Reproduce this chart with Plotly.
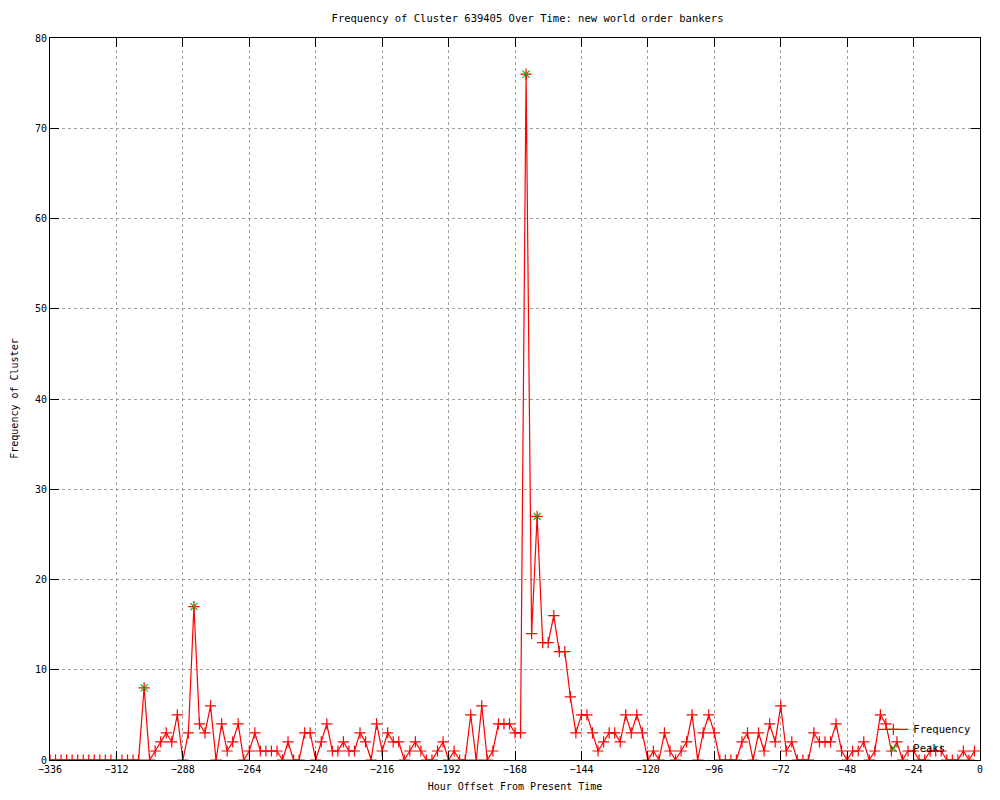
import plotly.graph_objects as go

# hour offsets, one reading every 2 hours
hours = list(range(-336, 0, 2))

frequency = [
    0, 0, 0, 0, 0, 0, 0, 0, 0, 0, 0, 0, 0, 0, 0, 0, 0,
    8, 0, 1, 2, 3, 2, 5, 0, 3, 17, 4, 3, 6, 0, 4, 1, 2, 4, 0,
    1, 3, 1, 1, 1, 1, 0, 2, 0, 0, 3, 3, 0, 2, 4, 1, 1, 2, 1, 1,
    3, 2, 0, 4, 1, 3, 2, 2, 0, 1, 2, 1, 0, 0, 1, 2, 0, 1, 0, 0,
    5, 0, 6, 0, 1, 4, 4, 4, 3, 3, 76, 14, 27, 13, 13, 16, 12, 12,
    7, 3, 5, 5, 3, 1, 2, 3, 3, 2, 5, 3, 5, 3, 0, 1, 0, 3, 1, 0,
    1, 2, 5, 0, 3, 5, 3, 0, 0, 0, 0, 2, 3, 0, 3, 1, 4, 2, 6, 1,
    2, 0, 0, 0, 3, 2, 2, 2, 4, 1, 0, 1, 1, 2, 0, 1, 5, 4, 1, 2,
    0, 1, 1, 0, 0, 1, 1, 1, 0, 0, 0, 1, 0, 1,
]

peak_hours = [-302, -284, -164, -160]
peak_values = [8, 17, 76, 27]

x_ticks = list(range(-336, 1, 24))
y_ticks = list(range(0, 81, 10))

font_mono = "DejaVu Sans Mono"

fig = go.Figure()

fig.add_trace(go.Scatter(
    x=hours,
    y=frequency,
    mode='lines+markers',
    name='Frequency',
    line=dict(color='red', width=1.2),
    marker=dict(symbol='cross-thin', size=8, color='red',
                line=dict(color='red', width=1.2))
))

fig.add_trace(go.Scatter(
    x=peak_hours,
    y=peak_values,
    mode='markers',
    name='Peaks',
    marker=dict(symbol='x-thin', size=7, color='#00b000',
                line=dict(color='#00b000', width=1.2))
))

axis_common = dict(
    showline=True,
    linecolor='black',
    linewidth=1,
    mirror='ticks',
    ticks='inside',
    ticklen=9,
    tickcolor='black',
    showgrid=True,
    gridcolor='#a0a0a0',
    griddash='dot',
    gridwidth=1,
    zeroline=False,
    automargin=False,
    tickfont=dict(family=font_mono, size=10, color='black'),
)

fig.update_xaxes(
    range=[-336, 0],
    tickvals=x_ticks,
    title=dict(text='Hour Offset From Present Time', standoff=8,
               font=dict(family=font_mono, size=10, color='black')),
    **axis_common
)
fig.update_yaxes(
    range=[0, 80],
    tickvals=y_ticks,
    **axis_common
)

# y title sits further left than plotly's standoff allows
fig.add_annotation(
    text='Frequency of Cluster',
    xref='paper', yref='paper',
    x=-0.039, y=0.5,
    xanchor='center', yanchor='middle',
    textangle=-90,
    showarrow=False,
    font=dict(family=font_mono, size=10, color='black')
)

# page body adds ~8px margin, so the figure is a bit smaller than the window
fig.update_layout(
    width=984,
    height=784,
    plot_bgcolor='white',
    paper_bgcolor='white',
    title=dict(text='Frequency of Cluster 639405 Over Time: new world order bankers',
               x=0.528, xanchor='center', y=0.987, yanchor='middle',
               font=dict(family=font_mono, size=10.5, color='black')),
    legend=dict(
        x=0.995, xanchor='right',
        y=-0.004, yanchor='bottom',
        bgcolor='rgba(0,0,0,0)',
        font=dict(family=font_mono, size=10.5, color='black'),
        tracegroupgap=0,
    ),
    margin=dict(l=42, r=12, t=30, b=32),
)

fig.write_html("out.html")
